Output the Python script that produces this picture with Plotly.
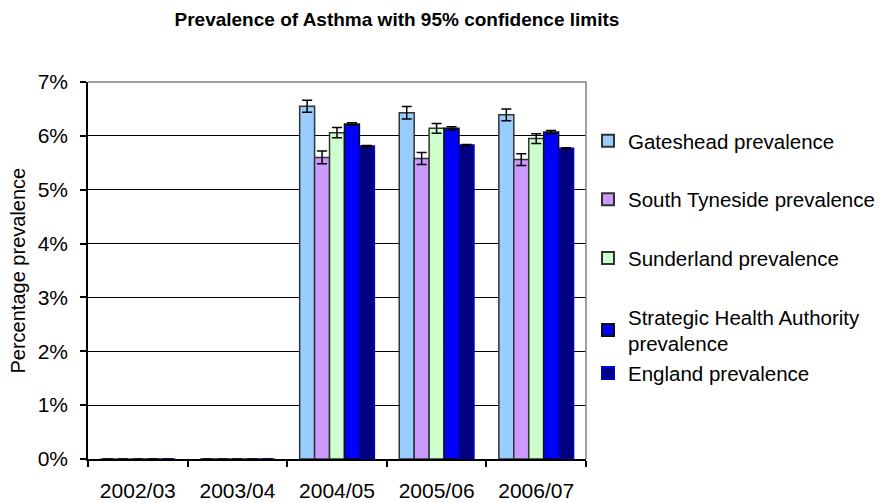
import plotly.graph_objects as go

years = ["2002/03", "2003/04", "2004/05", "2005/06", "2006/07"]
series_names = [
    "Gateshead prevalence",
    "South Tyneside prevalence",
    "Sunderland prevalence",
    "Strategic Health Authority<br>prevalence",
    "England prevalence",
]
gateshead = [0, 0, 6.55, 6.43, 6.39]
gateshead_ci = [0, 0, 0.11, 0.115, 0.11]
south_tyneside = [0, 0, 5.60, 5.58, 5.56]
south_tyneside_ci = [0, 0, 0.12, 0.11, 0.11]
sunderland = [0, 0, 6.06, 6.14, 5.95]
sunderland_ci = [0, 0, 0.095, 0.09, 0.09]
sha = [0, 0, 6.22, 6.14, 6.07]
sha_ci = [0, 0, 0.025, 0.03, 0.03]
england = [0, 0, 5.81, 5.83, 5.77]
england_ci = [0, 0, 0.01, 0.01, 0.01]

values = [gateshead, south_tyneside, sunderland, sha, england]
cis = [gateshead_ci, south_tyneside_ci, sunderland_ci, sha_ci, england_ci]
colors = ["#99CCFF", "#CC99FF", "#CCFFCC", "#0000FF", "#000080"]
outlines = ["#333333", "#333333", "#333333", "#111111", "#0000CC"]
groups = ["g0", "g1", "g2", "g3", "g3"]

FONT = "Liberation Sans, Arial, sans-serif"

fig = go.Figure()
for i, (name, v, ci) in enumerate(zip(series_names, values, cis)):
    fig.add_trace(go.Bar(
        x=years, y=v, name=name,
        legendgroup=groups[i],
        marker=dict(color=colors[i], line=dict(color=outlines[i], width=1.5)),
        error_y=dict(type="data", array=ci, visible=True, color="black",
                     thickness=1.5, width=5),
    ))

fig.update_layout(
    width=878, height=495,
    paper_bgcolor="white", plot_bgcolor="white",
    margin=dict(l=80, r=300, t=74, b=44, autoexpand=False),
    barmode="group", bargap=0.25, bargroupgap=0,
    font=dict(family=FONT, size=21, color="black"),
    title=dict(text="<b>Prevalence of Asthma with 95% confidence limits</b>",
               font=dict(family=FONT, size=19, color="black"),
               x=0.443, xanchor="center", y=0.978, yanchor="middle",
               xref="container", yref="container"),
    showlegend=True,
    legend=dict(x=1.004, xanchor="left", y=0.897, yanchor="top",
                xref="paper", yref="paper",
                font=dict(family=FONT, size=20.5, color="black"),
                tracegroupgap=29, itemsizing="constant",
                bgcolor="rgba(0,0,0,0)"),
    shapes=[dict(type="path", xref="paper", yref="paper",
                 path="M 0 1 L 1 1 L 1 0", line=dict(color="#808080", width=1.5))],
    annotations=[dict(text="Percentage prevalence", xref="paper", yref="paper",
                      x=0, y=0.5, xanchor="center", yanchor="middle",
                      xshift=-71, textangle=-90, showarrow=False,
                      font=dict(family=FONT, size=20, color="black"))],
)
fig.update_xaxes(
    automargin=False,
    showline=True, linecolor="black", linewidth=1.5,
    ticks="outside", ticklen=6, tickcolor="black", tickwidth=1.5,
    tickson="boundaries", showgrid=False, ticklabelstandoff=12,
    tickfont=dict(family=FONT, size=21, color="black"),
)
fig.update_yaxes(
    automargin=False,
    range=[0, 7], dtick=1, ticksuffix="%",
    showline=True, linecolor="black", linewidth=1.5,
    ticks="outside", ticklen=6, tickcolor="black", tickwidth=1.5,
    showgrid=True, gridcolor="black", gridwidth=1, ticklabelstandoff=8,
    zeroline=False,
    tickfont=dict(family=FONT, size=21, color="black"),
)

fig.write_html("out.html")
